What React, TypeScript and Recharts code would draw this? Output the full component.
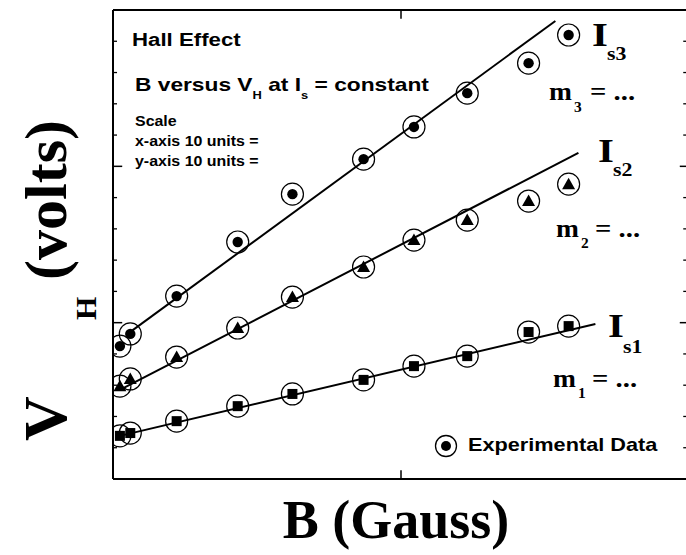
import React from "react";
import { ScatterChart, Scatter, XAxis, YAxis, ReferenceLine } from "recharts";

// Magnetic field B (axis units) at which V_H was measured
const B_FIELD = [0.24, 0.6, 2.21, 4.33, 6.23, 8.7, 10.45, 12.3, 14.43, 15.82];
// Hall voltage readings for the three constant currents
const VH_IS1 = [1.38, 1.47, 1.85, 2.33, 2.72, 3.17, 3.61, 3.93, 4.7, 4.89];
const VH_IS2 = [2.97, 3.2, 3.9, 4.83, 5.82, 6.78, 7.64, 8.28, 8.89, 9.43];
const VH_IS3 = [4.25, 4.64, 5.85, 7.58, 9.11, 10.23, 11.26, 12.34, 13.3, 14.2];
// Best-fit line end points
const FIT_B1 = [0.24, 16.75];
const FIT_V1 = [1.38, 4.96];
const FIT_B2 = [0.24, 16.16];
const FIT_V2 = [2.85, 10.43];
const FIT_B3 = [0.52, 15.36];
const FIT_V3 = [4.65, 14.65];
// Axis ranges and ticks
const B_DOMAIN = [0, 20];
const V_DOMAIN = [0, 15];
const X_TICKS = [10];
const Y_MINOR = [1, 2, 3, 4, 6, 7, 8, 9, 11, 12, 13, 14];
const Y_MAJOR = [5, 10];

// tick lengths expressed in axis units (style)
const TICK_MINOR_L = 0.14;
const TICK_MINOR_R = 0.2;
const TICK_MAJOR_B = 0.32;
const TICK_X_V = 0.28;

const toPts = (bs: number[], vs: number[]) => bs.map((b, i) => ({ b, v: vs[i] }));
const d1 = toPts(B_FIELD, VH_IS1);
const d2 = toPts(B_FIELD, VH_IS2);
const d3 = toPts(B_FIELD, VH_IS3);
const f1 = toPts(FIT_B1, FIT_V1);
const f2 = toPts(FIT_B2, FIT_V2);
const f3 = toPts(FIT_B3, FIT_V3);

const ring = (cx: number, cy: number) => (
  <circle cx={cx} cy={cy} r={11} fill="none" stroke="#000" strokeWidth={1.2} />
);
const dotShape = (p: any) => (
  <g>
    {ring(p.cx, p.cy)}
    <circle cx={p.cx} cy={p.cy} r={5.2} fill="#000" />
  </g>
);
const triShape = (p: any) => (
  <g>
    {ring(p.cx, p.cy)}
    <polygon
      points={`${p.cx},${p.cy - 6.5} ${p.cx - 6.5},${p.cy + 5} ${p.cx + 6.5},${p.cy + 5}`}
      fill="#000"
    />
  </g>
);
const sqShape = (p: any) => (
  <g>
    {ring(p.cx, p.cy)}
    <rect x={p.cx - 5} y={p.cy - 5} width={10} height={10} fill="#000" />
  </g>
);
const noShape = () => <g />;

const SANS = "'Liberation Sans', Arial, sans-serif";
const SERIF = "'Liberation Serif', 'Times New Roman', serif";

function T({ x, y, sx = 1, size, family = SANS, rotate = 0, anchor = "start", children }: any) {
  return (
    <text
      transform={`translate(${x},${y}) rotate(${rotate}) scale(${sx},1)`}
      x={0}
      y={0}
      fontFamily={family}
      fontWeight="bold"
      fontSize={size}
      fill="#000"
      textAnchor={anchor}
      style={{ whiteSpace: "pre" }}
    >
      {children}
    </text>
  );
}

const seg = (key: string, a: [number, number], b: [number, number], w: number) => (
  <ReferenceLine
    key={key}
    segment={[{ x: a[0], y: a[1] }, { x: b[0], y: b[1] }]}
    stroke="#000"
    strokeWidth={w}
    ifOverflow="visible"
  />
);

export default function App() {
  const [b0, b1] = B_DOMAIN;
  const [v0, v1] = V_DOMAIN;
  const frame = [
    seg("fl", [b0, v0], [b0, v1], 2),
    seg("fr", [b1, v0], [b1, v1], 2),
    seg("fb", [b0, v0], [b1, v0], 2),
    seg("ft", [b0, v1], [b1, v1], 2),
  ];
  const yTicks = [
    ...Y_MINOR.map((v) => seg(`lm${v}`, [b0, v], [b0 + TICK_MINOR_L, v], 1.3)),
    ...Y_MINOR.map((v) => seg(`rm${v}`, [b1 - TICK_MINOR_R, v], [b1, v], 1.3)),
    ...Y_MAJOR.map((v) => seg(`lM${v}`, [b0, v], [b0 + TICK_MAJOR_B, v], 1.5)),
    ...Y_MAJOR.map((v) => seg(`rM${v}`, [b1 - TICK_MAJOR_B, v], [b1, v], 1.5)),
  ];
  const xTicks = [
    ...X_TICKS.map((b) => seg(`bx${b}`, [b, v0], [b, v0 + TICK_X_V], 1.5)),
    ...X_TICKS.map((b) => seg(`tx${b}`, [b, v1 - TICK_X_V], [b, v1], 1.5)),
  ];

  return (
    <div style={{ position: "absolute", left: 0, top: 0, width: 686, height: 555, overflow: "hidden", background: "#fff" }}>
      <ScatterChart width={700} height={555} margin={{ top: 10, right: 11, bottom: 76, left: 113 }}>
        <XAxis type="number" dataKey="b" domain={B_DOMAIN} hide allowDataOverflow />
        <YAxis type="number" dataKey="v" domain={V_DOMAIN} hide allowDataOverflow />
        {frame}
        {yTicks}
        {xTicks}
        <Scatter data={d1} shape={sqShape} isAnimationActive={false} />
        <Scatter data={d2} shape={triShape} isAnimationActive={false} />
        <Scatter data={d3} shape={dotShape} isAnimationActive={false} />
        <Scatter data={f1} shape={noShape} line={{ stroke: "#000", strokeWidth: 2 }} isAnimationActive={false} />
        <Scatter data={f2} shape={noShape} line={{ stroke: "#000", strokeWidth: 2 }} isAnimationActive={false} />
        <Scatter data={f3} shape={noShape} line={{ stroke: "#000", strokeWidth: 2 }} isAnimationActive={false} />
      </ScatterChart>

      <svg width={686} height={555} style={{ position: "absolute", left: 0, top: 0, pointerEvents: "none" }}>
        <T x={132} y={46} size={17.5} sx={1.27}>Hall Effect</T>
        <T x={135} y={91} size={18.5} sx={1.23}>
          <tspan>B versus V</tspan>
          <tspan fontSize={10.5} dy={8}>H</tspan>
          <tspan dy={-8}> at I</tspan>
          <tspan fontSize={10.5} dy={8}>s</tspan>
          <tspan dy={-8}> = constant</tspan>
        </T>
        <T x={135} y={126} size={14.5} sx={1.1}>Scale</T>
        <T x={135} y={146} size={14.5} sx={1.1}>x-axis 10 units =</T>
        <T x={135} y={166} size={14.5} sx={1.1}>y-axis 10 units =</T>

        <T x={592} y={46} size={34} sx={1.2} family={SERIF}>I</T>
        <T x={607} y={60} size={19} sx={1.15} family={SERIF}>s3</T>
        <T x={598} y={162} size={34} sx={1.2} family={SERIF}>I</T>
        <T x={613} y={176} size={19} sx={1.15} family={SERIF}>s2</T>
        <T x={608} y={337} size={34} sx={1.2} family={SERIF}>I</T>
        <T x={623} y={353} size={19} sx={1.15} family={SERIF}>s1</T>

        <T x={549} y={100} size={25} sx={1.1} family={SERIF}>m</T>
        <T x={574} y={112} size={14} sx={1.1} family={SERIF}>3</T>
        <T x={590} y={100} size={25} sx={1.15} family={SERIF}>= ...</T>
        <T x={556} y={237} size={25} sx={1.1} family={SERIF}>m</T>
        <T x={581} y={248} size={14} sx={1.1} family={SERIF}>2</T>
        <T x={595} y={237} size={25} sx={1.15} family={SERIF}>= ...</T>
        <T x={553} y={387} size={25} sx={1.1} family={SERIF}>m</T>
        <T x={578} y={398} size={14} sx={1.1} family={SERIF}>1</T>
        <T x={592} y={387} size={25} sx={1.15} family={SERIF}>= ...</T>

        <circle cx={446} cy={446} r={10.5} fill="none" stroke="#000" strokeWidth={1.3} />
        <circle cx={446} cy={446} r={5} fill="#000" />
        <T x={468} y={451} size={17.5} sx={1.24}>Experimental Data</T>

        <T x={396} y={538} size={54} family={SERIF} anchor="middle">B (Gauss)</T>

        <T x={66} y={441} size={62} family={SERIF} rotate={-90}>V</T>
        <T x={96} y={320} size={30} family={SERIF} rotate={-90}>H</T>
        <T x={66} y={280} size={60} family={SERIF} rotate={-90}>(volts)</T>
      </svg>
    </div>
  );
}
